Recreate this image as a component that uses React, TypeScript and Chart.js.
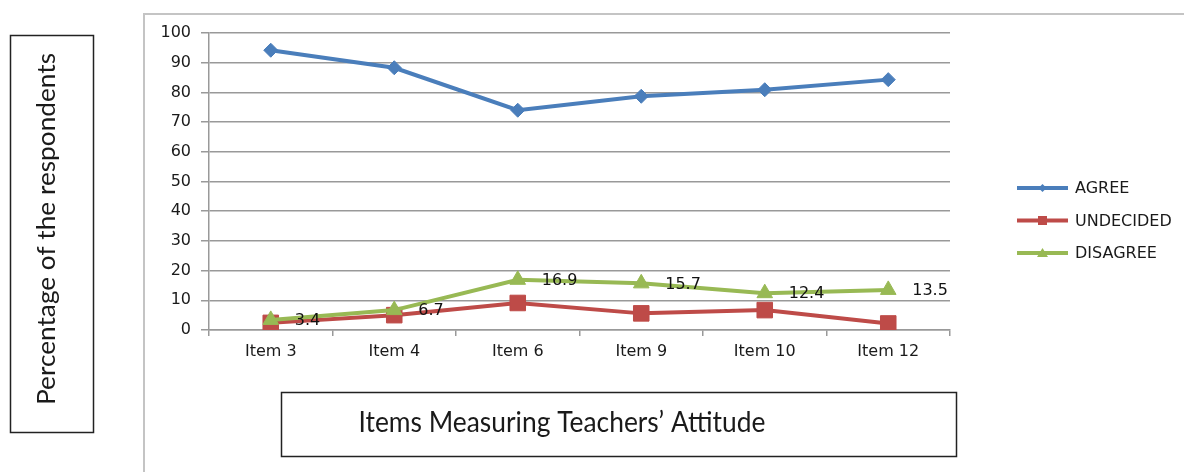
import React, { useEffect, useRef } from "react";
import { Chart, registerables } from "chart.js";

Chart.register(...registerables);

const categories = ["Item 3", "Item 4", "Item 6", "Item 9", "Item 10", "Item 12"];
const agree = [94.2, 88.3, 74.0, 78.7, 80.9, 84.3];
const undecided = [2.4, 5.0, 9.1, 5.6, 6.7, 2.2];
const disagree = [3.4, 6.7, 16.9, 15.7, 12.4, 13.5];
const seriesNames = ["AGREE", "UNDECIDED", "DISAGREE"];
const seriesColors = ["#4A7EBB", "#BE4B48", "#98B954"];
const yTitle = "Percentage of the respondents";
const xTitle = "Items Measuring Teachers\u2019 Attitude";
const yMin = 0;
const yMax = 100;
const yStep = 10;

const TICK_FONT = { family: "'DejaVu Sans', sans-serif", size: 16 };
const TEXT = "#1a1a1a";

function drawMarker(ctx: CanvasRenderingContext2D, style: string, x: number, y: number, r: number) {
  ctx.beginPath();
  if (style === "rectRot") {
    ctx.moveTo(x, y - r);
    ctx.lineTo(x + r, y);
    ctx.lineTo(x, y + r);
    ctx.lineTo(x - r, y);
  } else if (style === "rect") {
    ctx.rect(x - r, y - r, 2 * r, 2 * r);
  } else {
    ctx.moveTo(x, y - r);
    ctx.lineTo(x + r * 1.1, y + r * 0.8);
    ctx.lineTo(x - r * 1.1, y + r * 0.8);
  }
  ctx.closePath();
  ctx.fill();
}

const decorPlugin = {
  id: "decor",
  beforeDraw(chart: any) {
    const ctx: CanvasRenderingContext2D = chart.ctx;
    ctx.save();
    ctx.fillStyle = "#ffffff";
    ctx.fillRect(0, 0, chart.width, chart.height);
    ctx.strokeStyle = "#c4c4c4";
    ctx.lineWidth = 2;
    ctx.beginPath();
    ctx.moveTo(144, chart.height + 2);
    ctx.lineTo(144, 14);
    ctx.lineTo(chart.width + 2, 14);
    ctx.stroke();
    ctx.restore();
  },
  afterDraw(chart: any) {
    const ctx: CanvasRenderingContext2D = chart.ctx;
    ctx.save();
    // Y title box
    ctx.strokeStyle = "#222";
    ctx.lineWidth = 1.5;
    ctx.strokeRect(10.5, 35.5, 83, 397);
    ctx.fillStyle = TEXT;
    ctx.font = "25px Lato, sans-serif";
    let w = ctx.measureText(yTitle).width;
    ctx.save();
    ctx.translate(55, 229);
    ctx.rotate(-Math.PI / 2);
    ctx.scale(352 / w, 1);
    ctx.textAlign = "center";
    ctx.textBaseline = "alphabetic";
    ctx.fillText(yTitle, 0, 0);
    ctx.restore();

    // X title box
    ctx.strokeRect(281.5, 392.5, 675, 64);
    ctx.font = "28px Lato, sans-serif";
    w = ctx.measureText(xTitle).width;
    ctx.save();
    ctx.translate(562, 432);
    ctx.scale(407 / w, 1);
    ctx.textAlign = "center";
    ctx.textBaseline = "alphabetic";
    ctx.fillText(xTitle, 0, 0);
    ctx.restore();

    // Legend
    const styles = ["rectRot", "rect", "triangle"];
    const sizes = [4, 4.5, 5];
    chart.data.datasets.forEach((ds: any, i: number) => {
      const y = 188 + i * 32.5;
      ctx.strokeStyle = ds.borderColor;
      ctx.lineWidth = 4;
      ctx.beginPath();
      ctx.moveTo(1017, y);
      ctx.lineTo(1068, y);
      ctx.stroke();
      ctx.fillStyle = ds.borderColor;
      drawMarker(ctx, styles[i], 1042.5, y, sizes[i]);
      ctx.fillStyle = TEXT;
      ctx.font = "16px 'DejaVu Sans', sans-serif";
      ctx.textAlign = "left";
      ctx.textBaseline = "middle";
      ctx.fillText(ds.label, 1075, y + 1);
    });

    // Data labels for DISAGREE
    const meta = chart.getDatasetMeta(2);
    ctx.fillStyle = "#111";
    ctx.font = "16px 'DejaVu Sans', sans-serif";
    ctx.textAlign = "left";
    ctx.textBaseline = "middle";
    meta.data.forEach((pt: any, j: number) => {
      ctx.fillText(disagree[j].toFixed(1), pt.x + 24, pt.y + 1);
    });
    ctx.restore();
  },
};

export default function App() {
  const ref = useRef<HTMLCanvasElement>(null);
  useEffect(() => {
    document.body.style.margin = "0";
    const chart = new Chart(ref.current!, {
      type: "line",
      data: {
        labels: categories,
        datasets: [
          {
            label: seriesNames[0],
            data: agree,
            borderColor: seriesColors[0],
            backgroundColor: seriesColors[0],
            borderWidth: 4,
            pointStyle: "rectRot",
            pointRadius: 7,
            pointBorderWidth: 1,
            tension: 0,
            order: 2,
          },
          {
            label: seriesNames[1],
            data: undecided,
            borderColor: seriesColors[1],
            backgroundColor: seriesColors[1],
            borderWidth: 4,
            pointStyle: "rect",
            pointRadius: 11,
            pointBorderWidth: 1,
            tension: 0,
            order: 1,
          },
          {
            label: seriesNames[2],
            data: disagree,
            borderColor: seriesColors[2],
            backgroundColor: seriesColors[2],
            borderWidth: 4,
            pointStyle: "triangle",
            pointRadius: 9,
            pointBorderWidth: 1,
            tension: 0,
            order: 0,
          },
        ],
      },
      options: {
        responsive: false,
        animation: false,
        layout: { padding: { left: 145, right: 234, top: 33, bottom: 0 } },
        plugins: { legend: { display: false }, tooltip: { enabled: false }, title: { display: false } },
        scales: {
          x: {
            offset: true,
            grid: { display: true, drawOnChartArea: false, drawTicks: true, tickLength: 6, offset: true, color: "#999", lineWidth: 1.5 },
            border: { display: true, color: "#999", width: 1.5 },
            ticks: { font: TICK_FONT, color: TEXT, padding: 6, maxRotation: 0, autoSkip: false },
            afterFit: (s: any) => {
              s.height = 142;
            },
          },
          y: {
            min: yMin,
            max: yMax,
            grid: { color: "#999", lineWidth: 1.5, tickLength: 8 },
            border: { display: true, color: "#999", width: 1.5 },
            ticks: { stepSize: yStep, font: TICK_FONT, color: TEXT, padding: 10 },
            afterFit: (s: any) => {
              s.width = 64;
            },
          },
        },
      },
      plugins: [decorPlugin],
    });
    return () => chart.destroy();
  }, []);
  return (
    <div style={{ position: "absolute", left: 0, top: 0, width: 1184, height: 472 }}>
      <canvas ref={ref} width={1184} height={472} style={{ display: "block" }} />
    </div>
  );
}
